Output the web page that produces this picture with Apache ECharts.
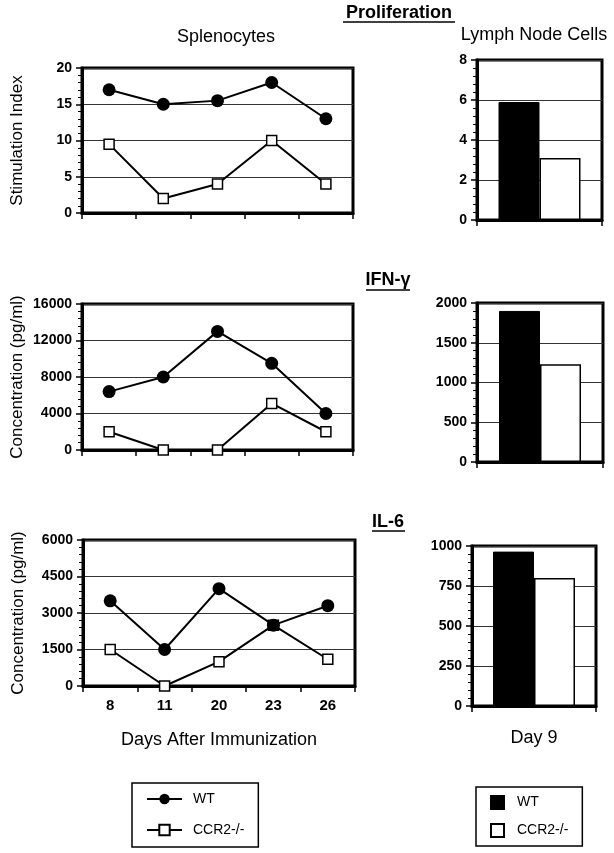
<!DOCTYPE html>
<html>
<head>
<meta charset="utf-8">
<script src="https://cdn.jsdelivr.net/npm/echarts@6/dist/echarts.min.js"></script>
<style>
html,body{margin:0;padding:0;background:#fff;}
#chart{width:614px;height:853px;}
</style>
</head>
<body>
<div id="chart"></div>
<script>
// ---- data ----
const days = ['8', '11', '20', '23', '26'];
const prolifWT = [17, 15, 15.5, 18, 13];
const prolifKO = [9.5, 2, 4, 10, 4];
const ifnWT = [6400, 8000, 13000, 9500, 4000];
const ifnKO = [2000, 0, 0, 5100, 2000];
const il6WT = [3500, 1500, 4000, 2500, 3300];
const il6KO = [1500, 0, 1000, 2500, 1100];
const lnCategory = ['Day 9'];
const lnProlif = [5.9, 3.1];   // WT, CCR2-/-
const lnIFN = [1900, 1230];
const lnIL6 = [965, 800];
const groups = ['WT', 'CCR2-/-'];
const yMax = [20, 16000, 6000, 8, 2000, 1000];
const yInterval = [5, 4000, 1500, 2, 500, 250];

const FONT = '"Liberation Sans", Arial, Helvetica, sans-serif';
const chart = echarts.init(document.getElementById('chart'), null, {renderer: 'canvas'});

const grids = [
  {left: 82, top: 68, width: 271, height: 145},
  {left: 82, top: 304, width: 271, height: 146},
  {left: 83, top: 540, width: 272, height: 146},
  {left: 477, top: 60, width: 125, height: 160},
  {left: 477, top: 303, width: 126, height: 159},
  {left: 472, top: 546, width: 124, height: 160}
].map(g => Object.assign({show: true, borderColor: '#000', borderWidth: 3, containLabel: false}, g));

function xAxisCfg(i) {
  const isLine = i < 3;
  const cfg = {
    type: 'category', gridIndex: i,
    data: isLine ? days : lnCategory,
    boundaryGap: true,
    axisLine: {lineStyle: {color: '#000', width: 3}},
    axisTick: {show: true, length: 6, lineStyle: {color: '#000', width: 1.5}},
    axisLabel: {show: i === 2, margin: 12, color: '#000', fontSize: 15, fontWeight: 'bold', fontFamily: FONT},
    splitLine: {show: false}
  };
  if (i === 2) {
    cfg.name = 'Days After Immunization';
    cfg.nameLocation = 'middle';
    cfg.nameGap = 45;
    cfg.nameTextStyle = {fontSize: 18, color: '#000', fontFamily: FONT};
  }
  if (i === 5) {
    cfg.name = 'Day 9';
    cfg.nameLocation = 'middle';
    cfg.nameGap = 23;
    cfg.nameTextStyle = {fontSize: 18, color: '#000', fontFamily: FONT};
  }
  return cfg;
}

function yAxisCfg(i) {
  const cfg = {
    type: 'value', gridIndex: i, min: 0, max: yMax[i], interval: yInterval[i],
    axisLine: {show: true, lineStyle: {color: '#000', width: 3}},
    axisTick: {show: true, length: 6, lineStyle: {color: '#000', width: 1.5}},
    minorTick: {show: true, splitNumber: 5, length: 4, lineStyle: {color: '#000', width: 1}},
    splitLine: {show: true, lineStyle: {color: '#333', width: 1}},
    axisLabel: {margin: 10, color: '#000', fontSize: 14, fontWeight: 'bold', fontFamily: FONT,
      formatter: v => String(v)}
  };
  const names = ['Stimulation Index', 'Concentration (pg/ml)', 'Concentration (pg/ml)'];
  if (i < 3) {
    cfg.name = names[i];
    cfg.nameLocation = 'middle';
    cfg.nameGap = 56;
    cfg.nameTextStyle = {fontSize: 17, color: '#000', fontFamily: FONT};
  }
  return cfg;
}

function lineSeries(name, data, idx, isWT) {
  return {
    type: 'line', name: name, xAxisIndex: idx, yAxisIndex: idx, data: data,
    z: isWT ? 4 : 3,
    symbol: isWT ? 'circle' : 'rect',
    symbolSize: isWT ? 13 : 10,
    lineStyle: {color: '#000', width: 2},
    itemStyle: isWT ? {color: '#000'} : {color: '#fff', borderColor: '#000', borderWidth: 1.5},
    emphasis: {disabled: true},
    animation: false
  };
}

const lnData = [lnProlif, lnIFN, lnIL6];
function barSeries(k, idx) {
  const isWT = k === 0;
  return {
    type: 'bar', name: groups[k] + ' (LN)', xAxisIndex: idx, yAxisIndex: idx,
    data: [lnData[idx - 3][k]],
    barWidth: 41, barGap: '0%',
    itemStyle: isWT ? {color: '#000', borderColor: '#000', borderWidth: 1} : {color: '#fff', borderColor: '#000', borderWidth: 1.5},
    emphasis: {disabled: true},
    animation: false
  };
}

const series = [
  lineSeries(groups[1], prolifKO, 0, false), lineSeries(groups[0], prolifWT, 0, true),
  lineSeries(groups[1], ifnKO, 1, false), lineSeries(groups[0], ifnWT, 1, true),
  lineSeries(groups[1], il6KO, 2, false), lineSeries(groups[0], il6WT, 2, true),
  barSeries(0, 3), barSeries(1, 3),
  barSeries(0, 4), barSeries(1, 4),
  barSeries(0, 5), barSeries(1, 5)
];

function txt(text, x, y, size, bold) {
  return {type: 'text', x: x, y: y, silent: true,
    style: {text: text, fill: '#000', align: 'center', verticalAlign: 'middle',
      font: (bold ? 'bold ' : '') + size + 'px ' + FONT}};
}
function uline(x1, x2, y) {
  return {type: 'line', silent: true, shape: {x1: x1, y1: y, x2: x2, y2: y}, style: {stroke: '#000', lineWidth: 1.5}};
}

const option = {
  animation: false,
  backgroundColor: '#fff',
  grid: grids,
  xAxis: [0, 1, 2, 3, 4, 5].map(xAxisCfg),
  yAxis: [0, 1, 2, 3, 4, 5].map(yAxisCfg),
  series: series,
  legend: [
    {
      data: groups, orient: 'vertical', left: 132, top: 783,
      padding: [9, 14, 10, 14], itemWidth: 35, itemHeight: 13, itemGap: 17,
      borderColor: '#000', borderWidth: 1.5, selectedMode: false,
      textStyle: {fontSize: 14, color: '#000', fontFamily: FONT, padding: [0, 0, 0, 6]}
    },
    {
      data: groups.map(g => g + ' (LN)'), orient: 'vertical', left: 476, top: 787,
      icon: 'rect', padding: [8, 14, 8, 14], itemWidth: 13, itemHeight: 13, itemGap: 13,
      borderColor: '#000', borderWidth: 1.5, selectedMode: false,
      formatter: name => name.replace(' (LN)', ''),
      textStyle: {fontSize: 14, color: '#000', fontFamily: FONT, padding: [0, 0, 0, 8]}
    }
  ],
  graphic: [
    txt('Proliferation', 399, 13, 18, true), uline(343, 455, 22),
    txt('Splenocytes', 226, 37, 18, false),
    txt('Lymph Node Cells', 534, 35, 18, false),
    txt('IFN-γ', 388, 280, 18, true), uline(366, 410, 290),
    txt('IL-6', 388, 522, 18, true), uline(372, 405, 531)
  ]
};
chart.setOption(option);
</script>
</body>
</html>
